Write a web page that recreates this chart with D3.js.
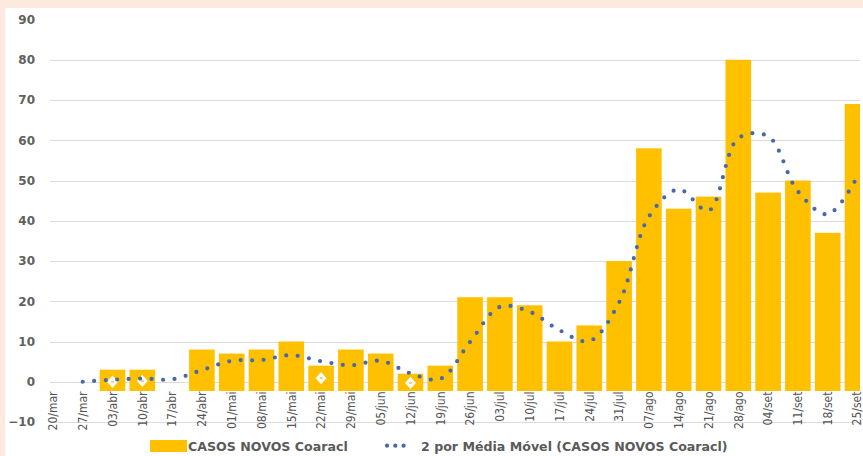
<!DOCTYPE html>
<html>
<head>
<meta charset="utf-8">
<script src="https://cdn.jsdelivr.net/npm/d3@7"></script>
<style>
  html, body { margin: 0; padding: 0; background: #fde9dd; }
  svg { display: block; }
</style>
</head>
<body>
<svg id="chart" width="863" height="456"></svg>
<script>
// Weekly new cases and the two-period moving average
const weeks = ["20/mar","27/mar","03/abr","10/abr","17/abr","24/abr","01/mai","08/mai","15/mai","22/mai",
  "29/mai","05/jun","12/jun","19/jun","26/jun","03/jul","10/jul","17/jul","24/jul","31/jul",
  "07/ago","14/ago","21/ago","28/ago","04/set","11/set","18/set","25/set"];
const newCases = [0, 0, 3, 3, 0, 8, 7, 8, 10, 4, 8, 7, 2, 4, 21, 21, 19, 10, 14, 30,
  58, 43, 46, 80, 47, 50, 37, 69];
const movingAvg = [null, 0, 0.5, 0.8, 0.6, 2.9, 5.2, 5.4, 6.6, 5.1, 4.1, 5.2, 2.1, 0.7, 9.9, 18.6,
  17.4, 12.8, 10.1, 19.7, 41, 47.8, 42.5, 60.5, 61, 47.3, 41.6, 51];
const yTicks = [-10, 0, 10, 20, 30, 40, 50, 60, 70, 80, 90];
const gridTicks = [-10, 0, 10, 20, 30, 40, 50, 60, 70, 80];
// small white point markers sitting near the zero line
const markerWeeks = ["03/abr", "10/abr", "22/mai", "12/jun"];
const markerVals = [0, 0.2, 0.9, -0.3];
const barFloor = -2.3;

const seriesNames = ["CASOS NOVOS Coaracl", "2 por Média Móvel (CASOS NOVOS Coaracl)"];

const svg = d3.select("#chart");
const W = 863, H = 456;

// white chart area inside the peach frame
svg.append("rect").attr("x", 0).attr("y", 0).attr("width", W).attr("height", H).attr("fill", "#fde9dd");
svg.append("rect").attr("x", 5).attr("y", 8).attr("width", W - 5).attr("height", H - 8).attr("fill", "#ffffff");

const y = d3.scaleLinear().domain([-10, 90]).range([422, 19.5]);
const x = d3.scaleBand().domain(weeks).range([38, 38 + 28 * 29.8]).paddingInner(0.14).paddingOuter(0.07);
const cx = d => x(d) + x.bandwidth() / 2;

svg.append("defs").append("clipPath").attr("id", "plotClip")
  .append("rect").attr("x", 0).attr("y", 0).attr("width", 860).attr("height", H);

// gridlines
svg.append("g").selectAll("line").data(gridTicks).join("line")
  .attr("x1", 50).attr("x2", 860)
  .attr("y1", d => Math.round(y(d)) + 0.5).attr("y2", d => Math.round(y(d)) + 0.5)
  .attr("stroke", "#dcdcdc").attr("stroke-width", 1);

// y axis labels
const yAxis = d3.axisLeft(y).tickValues(yTicks).tickSize(0).tickPadding(0);
const gy = svg.append("g").attr("transform", "translate(35,0)").call(yAxis);
gy.select(".domain").remove();
gy.selectAll("text")
  .attr("font-family", "'DejaVu Sans', sans-serif")
  .attr("font-weight", "bold")
  .attr("font-size", 12)
  .attr("fill", "#5f5f5f");

const plot = svg.append("g").attr("clip-path", "url(#plotClip)");

// bars
plot.append("g").selectAll("rect").data(weeks.map((w, i) => ({ w, v: newCases[i] })).filter(d => d.v > 0))
  .join("rect")
  .attr("x", d => x(d.w))
  .attr("width", x.bandwidth())
  .attr("y", d => y(d.v))
  .attr("height", d => y(barFloor) - y(d.v))
  .attr("fill", "#ffc000");

// white diamond markers
const diamond = d3.symbol().type(d3.symbolDiamond).size(60);
const mk = plot.append("g").selectAll("g").data(markerWeeks.map((w, i) => ({ w, v: markerVals[i] })))
  .join("g").attr("transform", d => `translate(${cx(d.w)},${y(d.v)}) scale(1.3,0.85)`);
mk.append("path").attr("d", diamond).attr("fill", "#ffffff");
mk.append("circle").attr("r", 1.3).attr("fill", "#f2c48a");

// moving average, smoothed dotted line
const line = d3.line()
  .defined(d => d.v !== null)
  .x(d => cx(d.w))
  .y(d => y(d.v))
  .curve(d3.curveCatmullRom.alpha(0.5));
plot.append("path")
  .datum(weeks.map((w, i) => ({ w, v: movingAvg[i] })).filter(d => d.v !== null))
  .attr("d", line)
  .attr("fill", "none")
  .attr("stroke", "#4869a8")
  .attr("stroke-width", 4.2)
  .attr("stroke-linecap", "round")
  .attr("stroke-dasharray", "0,11.5");

// x axis labels, rotated
const gx = svg.append("g");
gx.selectAll("text").data(weeks).join("text")
  .attr("transform", d => `translate(${Math.min(cx(d), 856.5)},391.5) rotate(-90)`)
  .attr("text-anchor", "end")
  .attr("dy", "0.35em")
  .attr("font-family", "'DejaVu Sans Condensed', 'DejaVu Sans', sans-serif")
  .attr("font-stretch", "condensed")
  .attr("font-size", 12)
  .attr("fill", "#555555")
  .text(d => d);

// legend
const lg = svg.append("g")
  .attr("font-family", "'DejaVu Sans', sans-serif")
  .attr("font-weight", "bold")
  .attr("font-size", 12.6)
  .attr("fill", "#5a5a5a");
lg.append("rect").attr("x", 150).attr("y", 440).attr("width", 37).attr("height", 12).attr("fill", "#ffc000");
lg.append("text").attr("x", 188).attr("y", 450.8).text(seriesNames[0]);
lg.selectAll("circle").data([0, 1, 2]).join("circle")
  .attr("cx", d => 387 + d * 8.3).attr("cy", 445.7).attr("r", 2.1).attr("fill", "#4869a8");
lg.append("text").attr("x", 421).attr("y", 450.8).text(seriesNames[1]);
</script>
</body>
</html>
